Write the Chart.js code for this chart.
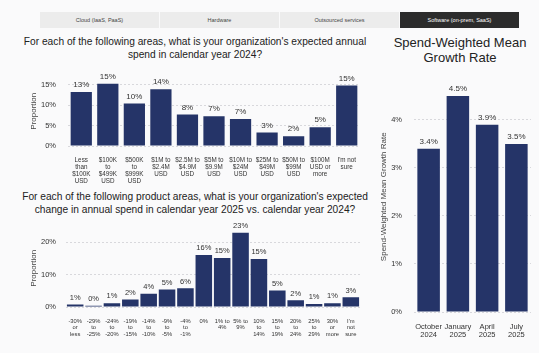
<!DOCTYPE html>
<html>
<head>
<meta charset="utf-8">
<script src="https://cdn.jsdelivr.net/npm/chart.js@4.4.1/dist/chart.umd.min.js"></script>
<style>
  body { margin: 0; background: #fafafb; font-family: "Liberation Sans", Arial, sans-serif; }
  #page { position: relative; width: 539px; height: 353px; overflow: hidden; }
  .tab { position: absolute; top: 12px; height: 16px; width: 119px; background: #ececec; color: #444;
         font-size: 5.5px; line-height: 16px; text-align: center; }
  .tab.active { background: #2c2c2c; color: #fff; }
  .title { position: absolute; text-align: center; color: #222; }
  canvas { position: absolute; }
</style>
</head>
<body>
<div id="page">
  <div class="tab" style="left:40px">Cloud (IaaS, PaaS)</div>
  <div class="tab" style="left:160px">Hardware</div>
  <div class="tab" style="left:280px">Outsourced services</div>
  <div class="tab active" style="left:400px">Software (on-prem, SaaS)</div>

  <div class="title" style="left:20px; top:35px; width:350px; font-size:10.2px; line-height:13px">For each of the following areas, what is your organization's expected annual<br>spend in calendar year 2024?</div>
  <div class="title" style="left:20px; top:190px; width:350px; font-size:10.2px; line-height:13px">For each of the following product areas, what is your organization's expected<br>change in annual spend in calendar year 2025 vs. calendar year 2024?</div>
  <div class="title" style="left:385px; top:35px; width:150px; font-size:13px; line-height:15px">Spend-Weighted Mean<br>Growth Rate</div>

  <canvas id="spend-chart" width="345" height="130" style="left:20px; top:60px"></canvas>
  <canvas id="change-chart" width="345" height="128" style="left:20px; top:215px"></canvas>
  <canvas id="growth-chart" width="165" height="280" style="left:370px; top:65px"></canvas>
</div>
<script>
var barColor = '#253468'

var spendLabels = [
    ['Less', 'than', '$100K', 'USD'], ['$100K', 'to', '$499K', 'USD'], ['$500K', 'to', '$999K', 'USD'],
    ['$1M to', '$2.4M', 'USD'], ['$2.5M to', '$4.9M', 'USD'], ['$5M to', '$9.9M', 'USD'],
    ['$10M to', '$24M', 'USD'], ['$25M to', '$49M', 'USD'], ['$50M to', '$99M', 'USD'],
    ['$100M', 'USD or', 'more'], ["I'm not", 'sure']
]
var spendValues = [13.2, 15.2, 10.4, 13.9, 7.7, 7.3, 6.6, 3.3, 2.4, 4.6, 14.8]

var changeLabels = [
    ['-30%', 'or', 'less'], ['-29%', 'to', '-25%'], ['-24%', 'to', '-20%'], ['-19%', 'to', '-15%'],
    ['-14%', 'to', '-10%'], ['-9%', 'to', '-5%'], ['-4%', 'to', '-1%'], ['0%'], ['1% to', '4%'],
    ['5% to', '9%'], ['10%', 'to', '14%'], ['15%', 'to', '19%'], ['20%', 'to', '24%'],
    ['25%', 'to', '29%'], ['30%', 'or', 'more'], ["I'm", 'not', 'sure']
]
var changeValues = [0.8, 0.4, 1.2, 2.3, 4.1, 5.4, 5.8, 16.1, 15.2, 23.0, 14.9, 5.1, 2.1, 0.9, 1.2, 3.0]

var growthLabels = [['October', '2024'], ['January', '2025'], ['April', '2025'], ['July', '2025']]
var growthValues = [3.4, 4.5, 3.9, 3.5]

// value printed above each bar
var barLabels = {
    id: 'barLabels',
    afterDatasetsDraw: function (chart, args, opts) {
        var ctx = chart.ctx
        var meta = chart.getDatasetMeta(0)
        ctx.save()
        ctx.font = opts.size + 'px "Liberation Sans", Arial, sans-serif'
        ctx.fillStyle = '#333'
        ctx.textAlign = 'center'
        ctx.textBaseline = 'bottom'
        meta.data.forEach(function (bar, i) {
            var v = chart.data.datasets[0].data[i]
            ctx.fillText(v.toFixed(opts.decimals) + '%', bar.x, bar.y - 3)
        })
        ctx.restore()
    }
}

function makeChart(id, labels, values, o) {
    var ctx = document.getElementById(id).getContext('2d')
    return new Chart(ctx, {
        type: 'bar',
        data: {
            labels: labels,
            datasets: [{
                data: values,
                backgroundColor: barColor,
                barPercentage: o.barPercentage,
                categoryPercentage: 1
            }]
        },
        plugins: [barLabels],
        options: {
            responsive: false,
            animation: false,
            layout: { padding: o.padding },
            plugins: {
                legend: { display: false },
                tooltip: { enabled: false },
                barLabels: { size: o.valueSize, decimals: o.decimals }
            },
            scales: {
                x: {
                    grid: { display: false },
                    border: { display: false },
                    ticks: {
                        autoSkip: false, maxRotation: 0, color: '#333', padding: 3,
                        font: { size: o.xSize, family: '"Liberation Sans", Arial, sans-serif', lineHeight: 1.1 }
                    },
                    afterFit: function (axis) { axis.height = o.xHeight }
                },
                y: {
                    min: 0,
                    max: o.max,
                    grid: { color: '#d8d8dc', drawTicks: false },
                    border: { display: false, dash: [2, 2] },
                    ticks: {
                        stepSize: o.step, color: '#333', padding: o.tickPad,
                        font: { size: 7.5, family: '"Liberation Sans", Arial, sans-serif' },
                        callback: function (v) { return v + '%' }
                    },
                    afterBuildTicks: function (axis) {
                        axis.ticks = axis.ticks.filter(function (t) { return t.value % o.step === 0 })
                    },
                    title: {
                        display: true, text: o.yTitle, color: '#444',
                        padding: { top: o.titlePad, bottom: 0 },
                        font: { size: 8, family: '"Liberation Sans", Arial, sans-serif' }
                    },
                    afterFit: function (axis) { axis.width = o.yWidth }
                }
            }
        }
    })
}

makeChart('spend-chart', spendLabels, spendValues, {
    barPercentage: 0.8, padding: { top: 9, right: 5, left: 0, bottom: 0 },
    valueSize: 8, decimals: 0, xSize: 6.3, xHeight: 44, max: 17, step: 5,
    tickPad: 12, yTitle: 'Proportion', titlePad: 9, yWidth: 48
})

makeChart('change-chart', changeLabels, changeValues, {
    barPercentage: 0.9, padding: { top: 12, right: 5, left: 0, bottom: 0 },
    valueSize: 7.5, decimals: 0, xSize: 5.8, xHeight: 36, max: 24, step: 10,
    tickPad: 10, yTitle: 'Proportion', titlePad: 9, yWidth: 46
})

makeChart('growth-chart', growthLabels, growthValues, {
    barPercentage: 0.77, padding: { top: 6, right: 4, left: 0, bottom: 0 },
    valueSize: 8, decimals: 1, xSize: 7.5, xHeight: 33, max: 4.8, step: 1,
    tickPad: 12, yTitle: 'Spend-Weighted Mean Growth Rate', titlePad: 9, yWidth: 44
})
</script>
</body>
</html>
